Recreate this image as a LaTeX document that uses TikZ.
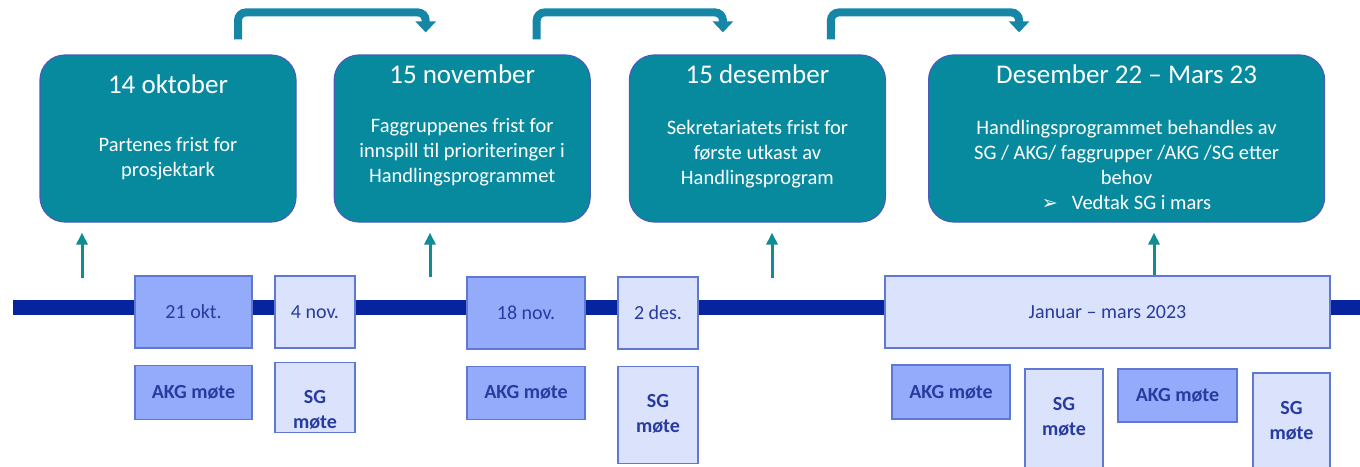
\documentclass[tikz,border=0pt]{standalone}
\usepackage{fontspec}
\setmainfont{Carlito}
\newfontfamily\symfont{DejaVu Sans}
\usetikzlibrary{positioning,arrows.meta}

\definecolor{boxteal}{RGB}{8,138,158}
\definecolor{tealedge}{RGB}{72,92,190}
\definecolor{hopteal}{RGB}{22,134,166}
\definecolor{riseteal}{RGB}{16,140,150}
\definecolor{barblue}{RGB}{6,36,160}
\definecolor{akgfill}{RGB}{148,170,250}
\definecolor{sgfill}{RGB}{218,226,252}
\definecolor{boxedge}{RGB}{95,120,210}
\definecolor{labelblue}{RGB}{40,60,160}

\begin{document}
\begin{tikzpicture}[x=1pt, y=-1pt,
    deadline/.style = {draw=tealedge, fill=boxteal, line width=1.2pt, rounded corners=25pt, minimum width=256pt, minimum height=167pt, inner sep=0pt},
    heading/.style = {text=white, font=\fontsize{27}{32}\selectfont},
    detail/.style = {text=white, align=center, anchor=north, inner sep=0pt, font=\fontsize{20.5}{25}\selectfont},
    akg/.style = {draw=boxedge, fill=akgfill, line width=1.2pt, text=labelblue, inner sep=0pt, font=\fontsize{20}{25}\selectfont},
    sg/.style = {akg, fill=sgfill},
    meet/.style = {text=labelblue, align=center, anchor=north, inner sep=0pt, font=\fontsize{20}{25}\selectfont\bfseries},
    hop/.style = {draw=hopteal, line width=8pt, rounded corners=8pt, -{Triangle[width=20pt, length=11pt]}},
    rise/.style = {draw=riseteal, line width=3pt, shorten >=10pt, -{Triangle[width=11pt, length=12pt]}},
    timeline/.style = {draw=barblue, line width=15pt}]
  \useasboundingbox (0,0) rectangle (1360,466);

  % frister
  \node[deadline] (1) at (168,138.5) {};
  \node[deadline] (2) [right=37pt of 1] {};
  \node[deadline] (3) [right=38pt of 2] {};
  \node[deadline, minimum width=396pt] (4) [right=42pt of 3] {};
  \node[heading] (t1) at ([yshift=-30pt]1.north) {14 oktober};
  \node[heading] (t2) at ([yshift=-20pt]2.north) {15 november};
  \node[heading] (t3) at ([yshift=-20pt]3.north) {15 desember};
  \node[heading] (t4) at ([yshift=-20pt]4.north) {Desember 22 – Mars 23};
  \node[detail] (d1) at ([yshift=-83pt]1.north) {Partenes frist for\\prosjektark};
  \node[detail] (d2) at ([yshift=-64pt]2.north) {Faggruppenes frist for\\innspill til prioriteringer i\\Handlingsprogrammet};
  \node[detail] (d3) at ([yshift=-66pt]3.north) {Sekretariatets frist for\\første utkast av\\Handlingsprogram};
  \node[detail] (d4) at ([yshift=-66pt]4.north) {Handlingsprogrammet behandles av\\SG / AKG/ faggrupper /AKG /SG etter\\behov\\{\symfont\fontsize{19}{25}\selectfont ➢}\hspace{14pt}Vedtak SG i mars};

  \draw[hop] ([xshift=70pt, yshift=15pt]1.north) -- ++(0,-27) -| ([xshift=-36.5pt, yshift=22pt]2.north);
  \draw[hop] ([xshift=74.5pt, yshift=15pt]2.north) -- ++(0,-27) -| ([xshift=-34.5pt, yshift=22pt]3.north);
  \draw[hop] ([xshift=73.5pt, yshift=15pt]3.north) -- ++(0,-27) -| ([xshift=-107.5pt, yshift=22pt]4.north);

  % tidslinje
  \coordinate (start) at (13,307.5);
  \coordinate (end) at (1360,307.5);
  \draw[timeline] (start) -- (end);

  \node[akg, minimum width=117pt, minimum height=72pt] (okt21) at (193.5,312) {21 okt.};
  \node[sg, minimum width=80pt, minimum height=72pt] (nov4) at (315,312) {4 nov.};
  \node[akg, minimum width=118pt, minimum height=72pt] (nov18) at (526,313) {18 nov.};
  \node[sg, minimum width=80pt, minimum height=72pt] (des2) at (658,313) {2 des.};
  \node[sg, minimum width=445pt, minimum height=72pt] (jan) at (1107.5,312) {Januar – mars 2023};

  \coordinate (u1) at (82,278);
  \coordinate (u2) at (430,277);
  \coordinate (u3) at (772,278);
  \coordinate (u4) at ([xshift=46.5pt]jan.north);
  \draw[rise] (u1) -- (u1 |- 1.south);
  \draw[rise] (u2) -- (u2 |- 2.south);
  \draw[rise] (u3) -- (u3 |- 3.south);
  \draw[rise] (u4) -- (u4 |- 4.south);

  % møter
  \node[akg, minimum width=117pt, minimum height=54pt, font=\fontsize{20}{25}\selectfont\bfseries] (m1) [below=16pt of okt21] {AKG møte};
  \node[sg, minimum width=80pt, minimum height=70pt] (m2) [below=13pt of nov4] {};
  \node[akg, minimum width=118pt, minimum height=53pt, font=\fontsize{20}{25}\selectfont\bfseries] (m3) [below=16pt of nov18] {AKG møte};
  \node[sg, minimum width=80pt, minimum height=97pt] (m4) [below=16pt of des2] {};
  \node[akg, minimum width=118pt, minimum height=54pt, font=\fontsize{20}{25}\selectfont\bfseries] (m5) at (951,392) {AKG møte};
  \node[sg, minimum width=78pt, minimum height=106pt] (m6) at (1064,422) {};
  \node[akg, minimum width=119pt, minimum height=53pt, font=\fontsize{20}{25}\selectfont\bfseries] (m7) at (1177.5,395.5) {AKG møte};
  \node[sg, minimum width=77pt, minimum height=102pt] (m8) at (1291.5,424) {};
  \node[meet] (m2t) at ([yshift=-29pt]m2.north) {SG\\møte};
  \node[meet] (m4t) at ([yshift=-29pt]m4.north) {SG\\møte};
  \node[meet] (m6t) at ([yshift=-29pt]m6.north) {SG\\møte};
  \node[meet] (m8t) at ([yshift=-29pt]m8.north) {SG\\møte};
\end{tikzpicture}
\end{document}
